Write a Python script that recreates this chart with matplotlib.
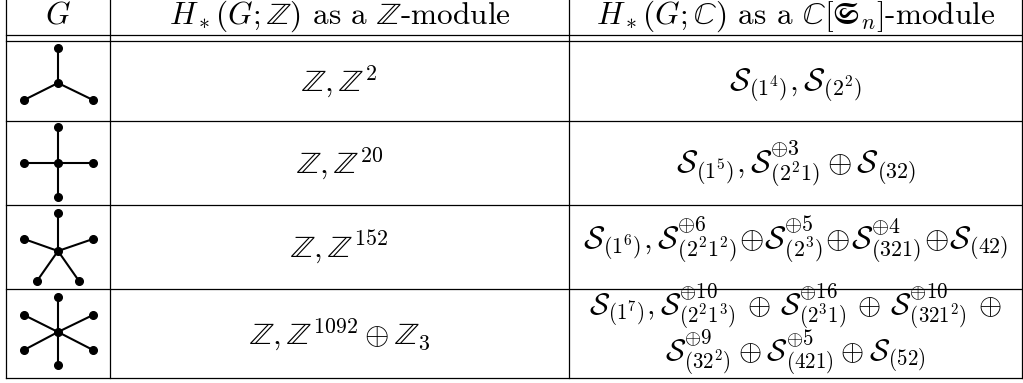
import matplotlib.pyplot as plt

plt.rcParams['mathtext.fontset'] = 'cm'
plt.rcParams['font.family'] = 'serif'
plt.rcParams['font.serif'] = ['cmr10']
plt.rcParams['axes.formatter.use_mathtext'] = True
plt.rcParams['axes.unicode_minus'] = False

# table content
headers = [r'$G$',
           r'$H_*(G;\mathbb{Z})$ as a $\mathbb{Z}$-module',
           r'$H_*(G;\mathbb{C})$ as a $\mathbb{C}[\mathfrak{S}_n]$-module']
z_modules = [r'$\mathbb{Z},\mathbb{Z}^{2}$',
             r'$\mathbb{Z},\mathbb{Z}^{20}$',
             r'$\mathbb{Z},\mathbb{Z}^{152}$',
             r'$\mathbb{Z},\mathbb{Z}^{1092}\oplus\mathbb{Z}_3$']
c_modules = [
    [r'$\mathcal{S}_{(1^4)},\mathcal{S}_{(2^2)}$'],
    [r'$\mathcal{S}_{(1^5)},\mathcal{S}_{(2^21)}^{\oplus 3}\oplus\mathcal{S}_{(32)}$'],
    [r'$\mathcal{S}_{(1^6)},\mathcal{S}_{(2^21^2)}^{\oplus 6}\!\oplus\!\mathcal{S}_{(2^3)}^{\oplus 5}\!\oplus\!'
     r'\mathcal{S}_{(321)}^{\oplus 4}\!\oplus\!\mathcal{S}_{(42)}$'],
    [r'$\mathcal{S}_{(1^7)},\mathcal{S}_{(2^21^3)}^{\oplus 10}\,\oplus\,\mathcal{S}_{(2^31)}^{\oplus 16}\,\oplus\,'
     r'\mathcal{S}_{(321^2)}^{\oplus 10}\,\oplus$',
     r'$\mathcal{S}_{(32^2)}^{\oplus 9}\oplus\mathcal{S}_{(421)}^{\oplus 5}\oplus\mathcal{S}_{(52)}$'],
]

# star graphs: leaf offsets from the centre vertex (pixels)
legs = [
    [(0, -35), (-34, 17), (35, 17)],
    [(0, -36), (0, 34), (-34, 0), (35, 0)],
    [(0, -38), (-34, -12), (35, -12), (-21, 30), (21, 30)],
    [(0, -35), (0, 33), (-34, -17), (35, -17), (-34, 18), (35, 18)],
]
centres_y = [83, 163, 251, 332]

# grid (pixels from top-left)
col_x = [6, 110, 569, 1022]
row_y = [41, 121, 205, 289, 378]
header_y = 35
header_base = 24
z_base = [91, 173, 257, 344]
c_base = [[91], [173], [248], [315, 361]]
c_size = [22.5, 22.5, 22.5, 21.5]

fig = plt.figure(figsize=(10.23, 3.83), dpi=100)
ax = fig.add_axes([0, 0, 1, 1])
ax.set_xlim(0, 1023)
ax.set_ylim(383, 0)
ax.axis('off')

lw = 0.9
for x in col_x:
    ax.plot([x, x], [0, row_y[-1]], color='black', lw=lw)
ax.plot([col_x[0], col_x[-1]], [header_y, header_y], color='black', lw=lw)
for y in row_y:
    ax.plot([col_x[0], col_x[-1]], [y, y], color='black', lw=lw)

fs = 22.5
col_c = [(col_x[i] + col_x[i + 1]) / 2 for i in range(3)]
for i, h in enumerate(headers):
    ax.text(col_c[i], header_base, h, ha='center', va='baseline', fontsize=fs)

for r in range(4):
    ax.text(col_c[1], z_base[r], z_modules[r], ha='center', va='baseline', fontsize=fs)
    for ln, yb in zip(c_modules[r], c_base[r]):
        ax.text(col_c[2], yb, ln, ha='center', va='baseline', fontsize=c_size[r])

    # star graph in first column
    cx, cy = 58, centres_y[r]
    for dx, dy in legs[r]:
        ax.plot([cx, cx + dx], [cy, cy + dy], color='black', lw=1.5)
        ax.plot(cx + dx, cy + dy, 'o', color='black', ms=5.5)
    ax.plot(cx, cy, 'o', color='black', ms=5.5)

fig.savefig('out.png', dpi=100)
